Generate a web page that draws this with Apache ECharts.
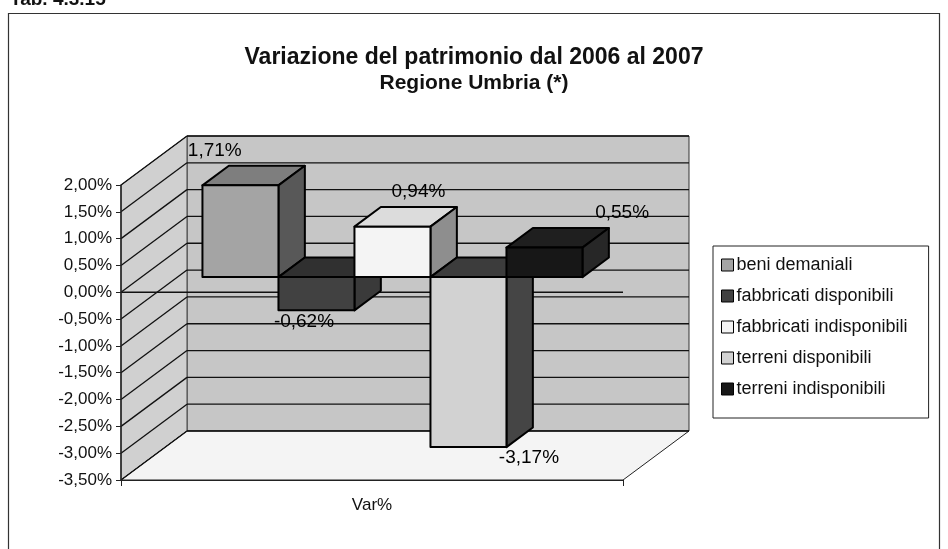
<!DOCTYPE html>
<html>
<head>
    <meta charset="utf-8" />
    <title>Variazione del patrimonio</title>
    <script src="https://cdn.jsdelivr.net/npm/echarts@6/dist/echarts.min.js"></script>
    <style>
        html, body { margin: 0; padding: 0; background: #fff; }
        #main { width: 948px; height: 549px; }
    </style>
</head>
<body>
    <div id="main"></div>
    <script type="text/javascript">
        // dati
        var categories = ['Var%'];
        var seriesNames = ['beni demaniali', 'fabbricati disponibili', 'fabbricati indisponibili', 'terreni disponibili', 'terreni indisponibili'];
        var seriesValues = [1.71, -0.62, 0.94, -3.17, 0.55];
        var yMin = -3.5, yMax = 2, yStep = 0.5;

        // colori delle facce (fronte, sopra, lato)
        var faceColors = [
            { front: '#a4a4a4', top: '#7e7e7e', side: '#585858' },
            { front: '#414141', top: '#303030', side: '#3a3a3a' },
            { front: '#f4f4f4', top: '#dcdcdc', side: '#8e8e8e' },
            { front: '#d2d2d2', top: '#3c3c3c', side: '#454545' },
            { front: '#171717', top: '#1f1f1f', side: '#272727' }
        ];

        var FONT = '"Liberation Sans", Arial, sans-serif';
        var DEPTH = [66, -49];     // profondita' della scatola 3D
        var BAR_F0 = 0.31;         // inizio barre in profondita'
        var BAR_D = 0.4;           // spessore barre in profondita'
        var BAR_SPAN = 0.757;      // quota della categoria occupata dalle barre

        function fmt(v) {
            return v.toFixed(2).replace('.', ',') + '%';
        }

        function renderWalls(params, api) {
            var c = api.coord([0, 0]);
            var band = api.size([1, 0])[0];
            var xL = c[0] - band / 2, xR = c[0] + band / 2;
            var yT = api.coord([0, yMax])[1], yB = api.coord([0, yMin])[1];
            var dx = DEPTH[0], dy = DEPTH[1];
            var kids = [];
            kids.push({ type: 'polygon', shape: { points: [[xL + dx, yT + dy], [xR + dx, yT + dy], [xR + dx, yB + dy], [xL + dx, yB + dy]] },
                style: { fill: '#c6c6c6', stroke: '#333', lineWidth: 1 } });
            kids.push({ type: 'polygon', shape: { points: [[xL, yT], [xL + dx, yT + dy], [xL + dx, yB + dy], [xL, yB]] },
                style: { fill: '#d0d0d0', stroke: '#444', lineWidth: 1 } });
            kids.push({ type: 'polygon', shape: { points: [[xL, yB], [xR, yB], [xR + dx, yB + dy], [xL + dx, yB + dy]] },
                style: { fill: '#f4f4f4', stroke: '#222', lineWidth: 1 } });
            for (var v = yMin; v <= yMax + 1e-9; v += yStep) {
                var y = api.coord([0, v])[1];
                kids.push({ type: 'line', shape: { x1: xL + dx, y1: y + dy, x2: xR + dx, y2: y + dy }, style: { stroke: '#111', lineWidth: 1.3 } });
                kids.push({ type: 'line', shape: { x1: xL, y1: y, x2: xL + dx, y2: y + dy }, style: { stroke: '#111', lineWidth: 1.3 } });
            }
            var y0 = api.coord([0, 0])[1];
            kids.push({ type: 'line', shape: { x1: xL, y1: y0, x2: xR, y2: y0 }, style: { stroke: '#111', lineWidth: 1.5 } });
            return { type: 'group', children: kids };
        }

        function renderBar(i) {
            return function (params, api) {
                var n = seriesNames.length;
                var v = api.value(1);
                var c0 = api.coord([0, 0]);
                var cv = api.coord([0, v]);
                var band = api.size([1, 0])[0];
                var bw = band * BAR_SPAN / n;
                var x0 = c0[0] - band * BAR_SPAN / 2 + i * bw + DEPTH[0] * BAR_F0;
                var x1 = x0 + bw;
                var yTop = Math.min(c0[1], cv[1]) + DEPTH[1] * BAR_F0;
                var yBot = Math.max(c0[1], cv[1]) + DEPTH[1] * BAR_F0;
                var dx = DEPTH[0] * BAR_D, dy = DEPTH[1] * BAR_D;
                var col = faceColors[i];
                var edge = { stroke: '#000', lineWidth: 2, lineJoin: 'round' };
                var mid = c0[0] + DEPTH[0] * BAR_F0;
                var lx, ly;
                if (v >= 0) {
                    lx = mid + 26 + (i - (n - 1) / 2) * bw * 1.34;
                    ly = yTop - 35;
                } else {
                    lx = mid + 24 + (i - (n - 1) / 2) * bw * 1.48;
                    ly = yBot + 11;
                }
                return {
                    type: 'group',
                    children: [
                        { type: 'polygon', shape: { points: [[x0, yTop], [x1, yTop], [x1 + dx, yTop + dy], [x0 + dx, yTop + dy]] },
                          style: Object.assign({ fill: col.top }, edge) },
                        { type: 'polygon', shape: { points: [[x1, yTop], [x1 + dx, yTop + dy], [x1 + dx, yBot + dy], [x1, yBot]] },
                          style: Object.assign({ fill: col.side }, edge) },
                        { type: 'polygon', shape: { points: [[x0, yTop], [x1, yTop], [x1, yBot], [x0, yBot]] },
                          style: Object.assign({ fill: col.front }, edge) },
                        { type: 'text', x: lx, y: ly, z2: 10,
                          style: { text: fmt(v), fill: '#000', font: '19px ' + FONT, align: 'center', verticalAlign: 'middle' } }
                    ]
                };
            };
        }

        var myChart = echarts.init(document.getElementById('main'), null, { renderer: 'canvas' });

        var series = [{
            name: 'walls',
            type: 'custom',
            renderItem: renderWalls,
            data: [[0, 0]],
            silent: true,
            z: 1
        }];
        seriesNames.forEach(function (name, i) {
            series.push({
                name: name,
                type: 'custom',
                renderItem: renderBar(i),
                data: [[0, seriesValues[i]]],
                encode: { x: 0, y: 1 },
                itemStyle: { color: faceColors[i].front, borderColor: '#000', borderWidth: 1 },
                z: 2
            });
        });

        var option = {
            animation: false,
            backgroundColor: '#fff',
            title: [
                {
                    text: 'Variazione del patrimonio dal 2006 al 2007',
                    left: 'center',
                    top: 41,
                    textStyle: { fontFamily: FONT, fontSize: 23, fontWeight: 'bold', color: '#111' }
                },
                {
                    text: 'Regione Umbria (*)',
                    left: 'center',
                    top: 68,
                    textStyle: { fontFamily: FONT, fontSize: 21, fontWeight: 'bold', color: '#111' }
                }
            ],
            legend: {
                data: seriesNames,
                orient: 'vertical',
                left: 713,
                top: 246,
                itemWidth: 12,
                itemHeight: 12,
                itemGap: 13,
                icon: 'rect',
                padding: [10, 21, 20, 8],
                borderColor: '#222',
                borderWidth: 1,
                textStyle: { fontFamily: FONT, fontSize: 18, color: '#111', padding: [0, 0, 0, -2] },
                itemStyle: { borderColor: '#000', borderWidth: 1 }
            },
            grid: { left: 121, top: 185, width: 502, height: 295 },
            xAxis: {
                type: 'category',
                data: categories,
                boundaryGap: true,
                axisLine: { onZero: false, lineStyle: { color: '#222', width: 1.2 } },
                axisTick: { show: true, length: 6, lineStyle: { color: '#222' } },
                axisLabel: { fontFamily: FONT, fontSize: 17, color: '#111', margin: 17 },
                z: 5
            },
            yAxis: {
                type: 'value',
                min: yMin,
                max: yMax,
                interval: yStep,
                axisLine: { show: true, lineStyle: { color: '#222', width: 1.5 } },
                axisTick: { show: true, length: 5, lineStyle: { color: '#222' } },
                splitLine: { show: false },
                axisLabel: { fontFamily: FONT, fontSize: 17, color: '#111', margin: 9, formatter: fmt },
                z: 5
            },
            graphic: [
                { type: 'rect', shape: { x: 8.5, y: 13.5, width: 931, height: 560 }, style: { fill: 'none', stroke: '#333', lineWidth: 1.2 }, z: 100 },
                { type: 'text', left: 10, top: -10, style: { text: 'Tab. 4.3.15', font: 'bold 19px ' + FONT, fill: '#111' }, z: 100 }
            ],
            series: series
        };

        myChart.setOption(option);
    </script>
</body>
</html>
